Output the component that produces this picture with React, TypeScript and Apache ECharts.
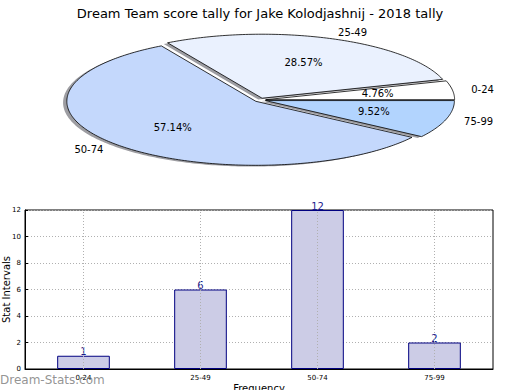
import React, { useEffect, useRef } from "react";
import * as echarts from "echarts";

const titleText = "Dream Team score tally for Jake Kolodjashnij - 2018 tally";
const categories = ["0-24", "25-49", "50-74", "75-99"];
const counts = [1, 6, 12, 2];
const pieColors = ["#ffffff", "#eaf1fe", "#c4d8fc", "#b2d4fe"];
const explode = [0.03, 0.03, 0.03, 0.03];
const yMin = 0;
const yMax = 12;
const yStep = 2;
const yAxisName = "Stat Intervals";
const xAxisName = "Frequency";
const watermark = "Dream-Stats.com";

const FONT = "DejaVu Sans";

export default function App() {
  const ref = useRef<HTMLDivElement>(null);
  useEffect(() => {
    if (!ref.current) return;
    const chart = echarts.init(ref.current, null, { renderer: "svg" });
    const total = counts.reduce((a, b) => a + b, 0);
    const cum: number[] = [0];
    counts.forEach((v) => cum.push(cum[cum.length - 1] + v));

    const geom = (i: number) => {
      const start = (cum[i] / total) * 360;
      const end = (cum[i + 1] / total) * 360;
      const mid = (((start + end) / 2) * Math.PI) / 180;
      return { start, end, mid, ox: explode[i] * Math.cos(mid), oy: explode[i] * Math.sin(mid) };
    };
    const slicePts = (i: number, api: any, dx: number, dy: number) => {
      const g = geom(i);
      const ox = g.ox + dx;
      const oy = g.oy + dy;
      const pts: number[][] = [api.coord([ox, oy])];
      const n = Math.max(6, Math.ceil(g.end - g.start));
      for (let k = 0; k <= n; k++) {
        const t = ((g.start + ((g.end - g.start) * k) / n) * Math.PI) / 180;
        pts.push(api.coord([ox + Math.cos(t), oy + Math.sin(t)]));
      }
      return pts;
    };

    const pieData = counts.map((v, i) => [i, v]);

    const option: any = {
      animation: false,
      title: {
        text: titleText,
        left: "center",
        top: 2,
        textStyle: { fontFamily: FONT, fontSize: 13, fontWeight: "normal", color: "#000" },
      },
      grid: [
        { left: 71, top: 36, width: 378, height: 128, outerBoundsMode: "none", containLabel: false },
        {
          left: 25,
          top: 210,
          width: 468,
          height: 159,
          show: true,
          borderColor: "#000",
          borderWidth: 1,
          backgroundColor: "transparent",
          outerBoundsMode: "none",
          containLabel: false,
        },
      ],
      xAxis: [
        { gridIndex: 0, type: "value", min: -1, max: 1, show: false },
        {
          gridIndex: 1,
          type: "category",
          data: categories,
          name: xAxisName,
          nameLocation: "middle",
          nameGap: 14,
          nameMoveOverlap: false,
          nameTextStyle: { fontFamily: FONT, fontSize: 10, color: "#000" },
          axisLine: { lineStyle: { color: "#000", width: 1 } },
          axisTick: { show: false },
          axisLabel: { fontFamily: FONT, fontSize: 7, color: "#000", margin: 5 },
          splitLine: { show: false },
        },
      ],
      yAxis: [
        { gridIndex: 0, type: "value", min: -1, max: 1, show: false },
        {
          gridIndex: 1,
          type: "value",
          min: yMin,
          max: yMax,
          interval: yStep,
          name: yAxisName,
          nameLocation: "middle",
          nameGap: 14,
          nameMoveOverlap: false,
          nameTextStyle: { fontFamily: FONT, fontSize: 10, color: "#000" },
          axisLine: { show: true, lineStyle: { color: "#000", width: 1 } },
          axisTick: { show: true, inside: true, length: 3, lineStyle: { color: "#000" } },
          axisLabel: { fontFamily: FONT, fontSize: 7, color: "#000", margin: 4 },
          splitLine: { show: true, lineStyle: { color: "#b0b0b0", type: [1, 2], width: 1 } },
        },
      ],
      series: [
        {
          type: "custom",
          xAxisIndex: 0,
          yAxisIndex: 0,
          clip: false,
          z: 1,
          data: pieData,
          renderItem: (params: any, api: any) => {
            const i = params.dataIndex;
            return {
              type: "polygon",
              shape: { points: slicePts(i, api, -0.02, -0.02) },
              style: { fill: "rgba(60,60,70,0.5)", stroke: "none" },
            };
          },
        },
        {
          type: "custom",
          xAxisIndex: 0,
          yAxisIndex: 0,
          clip: false,
          z: 2,
          data: pieData,
          renderItem: (params: any, api: any) => {
            const i = params.dataIndex;
            const g = geom(i);
            const pct = api.coord([g.ox + 0.6 * Math.cos(g.mid), g.oy + 0.6 * Math.sin(g.mid)]);
            const lab = api.coord([g.ox + 1.1 * Math.cos(g.mid), g.oy + 1.1 * Math.sin(g.mid)]);
            return {
              type: "group",
              children: [
                {
                  type: "polygon",
                  shape: { points: slicePts(i, api, 0, 0) },
                  style: { fill: pieColors[i], stroke: "#000", lineWidth: 0.8 },
                },
                {
                  type: "text",
                  x: pct[0],
                  y: pct[1],
                  style: {
                    text: ((counts[i] / total) * 100).toFixed(2) + "%",
                    fontFamily: FONT,
                    fontSize: 10,
                    fill: "#000",
                    align: "center",
                    verticalAlign: "middle",
                  },
                },
                {
                  type: "text",
                  x: lab[0],
                  y: lab[1],
                  style: {
                    text: categories[i],
                    fontFamily: FONT,
                    fontSize: 10,
                    fill: "#000",
                    align: Math.cos(g.mid) >= 0 ? "left" : "right",
                    verticalAlign: "middle",
                  },
                },
              ],
            };
          },
        },
        {
          type: "bar",
          xAxisIndex: 1,
          yAxisIndex: 1,
          data: counts,
          barWidth: "45%",
          itemStyle: { color: "#ccccE6", borderColor: "#000080", borderWidth: 1 },
          label: {
            show: true,
            position: "top",
            distance: 0,
            offset: [0, 1],
            fontFamily: FONT,
            fontSize: 10,
            color: "#1c1c8c",
          },
          markLine: {
            silent: true,
            symbol: "none",
            label: { show: false },
            lineStyle: { color: "#b0b0b0", type: [1, 2], width: 1 },
            data: categories.map((c) => ({ xAxis: c })),
            z: 5,
          },
        },
      ],
      graphic: [
        {
          type: "text",
          left: 0,
          top: 374,
          z: 10,
          style: {
            text: watermark,
            fontFamily: FONT,
            fontSize: 12,
            fontWeight: "normal",
            fill: "rgba(120,120,120,0.8)",
          },
        },
      ],
    };
    chart.setOption(option);
    return () => chart.dispose();
  }, []);
  return <div ref={ref} style={{ width: 520, height: 390, position: "absolute", left: 0, top: 0 }} />;
}
